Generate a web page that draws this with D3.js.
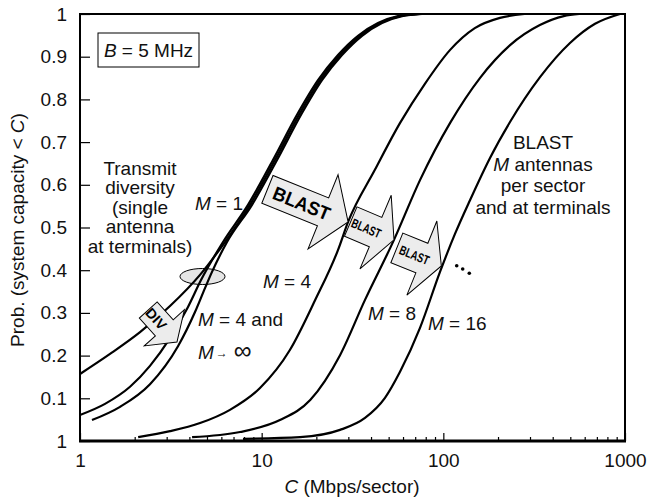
<!DOCTYPE html>
<html>
<head>
<meta charset="utf-8">
<script src="https://cdn.jsdelivr.net/npm/d3@7"></script>
<style>
body { margin: 0; background: #fff; }
svg { display: block; font-family: "Liberation Sans", Arial, Helvetica, sans-serif; }
.tick text { font-size: 19px; fill: #111; }
.lbl { font-size: 19px; fill: #111; }
.curve { fill: none; stroke: #000; stroke-width: 2.2; }
</style>
</head>
<body>
<div class="container"></div>
<script>
const margin = {
    top: 14,
    right: 22,
    bottom: 58,
    left: 80
}

const width = 647 - margin.left - margin.right,
      height = 499 - margin.top - margin.bottom;

// [C (Mbps/sector), probability]
const divM1 = [[1,0.157],[1.463,0.204],[2.14,0.255],[3.129,0.316],[4.577,0.389],[6.283,0.466],[8.626,0.553],[11.84,0.658],[16.26,0.768],[20.95,0.845],[26.99,0.904],[34.78,0.949],[44.81,0.979],[57.75,0.995],[74.4,1]];
const divM4 = [[1,0.061],[1.373,0.087],[1.885,0.127],[2.428,0.176],[3.129,0.241],[3.931,0.314],[4.636,0.377],[6.126,0.466],[8.41,0.553],[11.54,0.658],[15.85,0.768],[20.42,0.845],[26.31,0.904],[33.91,0.949],[43.69,0.979],[56.3,0.995],[72.54,1]];
const divMinf = [[1.164,0.049],[1.661,0.080],[2.428,0.133],[3.463,0.222],[4.296,0.302],[4.876,0.358],[5.329,0.396],[6.445,0.466],[8.848,0.553],[12.15,0.658],[16.68,0.768],[21.48,0.845],[27.69,0.904],[35.68,0.949],[45.96,0.979],[59.23,0.995],[76.31,1]];
const blastM4 = [[2.09,0.009],[3.13,0.023],[4.58,0.042],[6.69,0.073],[9.79,0.124],[14.3,0.213],[19.7,0.330],[26.3,0.447],[29.9,0.513],[42,0.635],[57.8,0.745],[79,0.836],[109,0.916],[149,0.967],[205,0.991],[280,1]];
const blastM8 = [[4.14,0.009],[7.6,0.021],[12.6,0.049],[18.5,0.096],[27,0.201],[37,0.330],[53.5,0.471],[74.4,0.611],[109,0.745],[159,0.850],[233,0.927],[340,0.974],[460,0.995],[560,1]];
const blastM16 = [[7.89,0.005],[16.26,0.009],[26.99,0.026],[37.06,0.054],[47.74,0.101],[57.75,0.162],[74.4,0.265],[95.86,0.396],[115.9,0.485],[140.2,0.564],[180.7,0.663],[232.8,0.747],[340.5,0.852],[498,0.932],[683.9,0.977],[938.7,1]];

const curves = [divM1, divM4, divMinf, blastM4, blastM8, blastM16];

const xTicks = [1, 10, 100, 1000];
const yTicks = [0, 0.1, 0.2, 0.3, 0.4, 0.5, 0.6, 0.7, 0.8, 0.9, 1];
const yTickLabels = ["1", "0.1", "0.2", "0.3", "0.4", "0.5", "0.6", "0.7", "0.8", "0.9", "1"];

// arrow annotations: tip given as [C, P]
const arrows = [
    {label: "BLAST", tip: [29.9, 0.513], angle: 22, headLen: 27, headHalf: 40, bodyLen: 60, bodyHalf: 15, textX: -50, textLen: 60, size: 19},
    {label: "BLAST", tip: [53.5, 0.471], angle: 23, headLen: 20, headHalf: 40, bodyLen: 27, bodyHalf: 16, textX: -30, textLen: 31, size: 13},
    {label: "BLAST", tip: [97.5, 0.41], angle: 22, headLen: 21, headHalf: 40, bodyLen: 27, bodyHalf: 16, textX: -29, textLen: 31, size: 13},
    {label: "DIV", tip: [3.42, 0.232], angle: 48, headLen: 19, headHalf: 27, bodyLen: 24, bodyHalf: 12, textX: -31, textLen: 24, size: 14}
];

const svg = d3.select(".container")
    .append("svg")
    .attr("width", width + margin.left + margin.right)
    .attr("height", height + margin.top + margin.bottom)
    .append("g")
    .attr("transform", `translate(${margin.left}, ${margin.top})`);

const xScale = d3.scaleLog()
    .domain([1, 1000])
    .range([0, width]);

const yScale = d3.scaleLinear()
    .domain([0, 1])
    .range([height, 0]);

// minor x ticks
const minor = [];
[1, 10, 100].forEach(dec => d3.range(2, 10).forEach(k => minor.push(dec * k)));

svg.append("g")
    .attr("transform", `translate(0, ${height})`)
    .call(d3.axisBottom(xScale).tickValues(minor).tickSizeInner(-4).tickSizeOuter(0).tickFormat(""))
    .call(g => g.select(".domain").remove())
    .call(g => g.selectAll("line").attr("stroke", "#000").attr("stroke-width", 1.2));

svg.append("g")
    .attr("transform", `translate(0, ${height})`)
    .call(d3.axisBottom(xScale).tickValues(xTicks).tickSizeInner(-8).tickSizeOuter(0).tickPadding(13).tickFormat(d3.format("d")))
    .call(g => g.select(".domain").remove())
    .call(g => g.selectAll("line").attr("stroke", "#000").attr("stroke-width", 1.2))
    .call(g => g.selectAll("text").attr("font-family", null));

svg.append("g")
    .call(d3.axisLeft(yScale).tickValues(yTicks).tickSizeInner(-10).tickSizeOuter(0).tickPadding(13).tickFormat((d, i) => yTickLabels[i]))
    .call(g => g.select(".domain").remove())
    .call(g => g.selectAll("line").attr("stroke", "#000").attr("stroke-width", 1.2))
    .call(g => g.selectAll("text").attr("font-family", null));

// frame
svg.append("rect")
    .attr("width", width)
    .attr("height", height)
    .attr("fill", "none")
    .attr("stroke", "#000")
    .attr("stroke-width", 2);

svg.append("line")
    .attr("x1", -1).attr("x2", width + 1)
    .attr("y1", height).attr("y2", height)
    .attr("stroke", "#000")
    .attr("stroke-width", 3);

const line = d3.line()
    .x(d => xScale(d[0]))
    .y(d => yScale(d[1]))
    .curve(d3.curveMonotoneX);

// ellipse where the diversity curves cross
svg.append("ellipse")
    .attr("cx", 122.5)
    .attr("cy", 262.5)
    .attr("rx", 22.5)
    .attr("ry", 8)
    .attr("fill", "#e6e6e6")
    .attr("stroke", "#000")
    .attr("stroke-width", 1);

svg.selectAll(".curve")
    .data(curves)
    .join("path")
    .classed("curve", true)
    .attr("d", line);

function arrowPath(a) {
    const hl = a.headLen, hh = a.headHalf, bl = a.bodyLen, bh = a.bodyHalf;
    return `M0,0L${-hl},${-hh}L${-hl},${-bh}L${-hl - bl},${-bh}L${-hl - bl},${bh}L${-hl},${bh}L${-hl},${hh}Z`;
}

const arrowG = svg.selectAll(".arrow")
    .data(arrows)
    .join("g")
    .classed("arrow", true)
    .attr("transform", d => `translate(${xScale(d.tip[0])}, ${yScale(d.tip[1])}) rotate(${d.angle})`);

arrowG.append("path")
    .attr("d", arrowPath)
    .attr("fill", "#ececec")
    .attr("stroke", "#000")
    .attr("stroke-width", 1)
    .attr("stroke-linejoin", "miter");

arrowG.append("text")
    .attr("x", d => d.textX)
    .attr("y", 0)
    .attr("dy", "0.36em")
    .attr("text-anchor", "middle")
    .attr("font-weight", "bold")
    .attr("font-size", d => d.size)
    .attr("textLength", d => d.textLen)
    .attr("lengthAdjust", "spacingAndGlyphs")
    .attr("fill", "#000")
    .text(d => d.label);

// B = 5 MHz box
svg.append("rect")
    .attr("x", 18)
    .attr("y", 19)
    .attr("width", 101)
    .attr("height", 34)
    .attr("fill", "#fff")
    .attr("stroke", "#000")
    .attr("stroke-width", 1);

const bText = svg.append("text")
    .classed("lbl", true)
    .attr("x", 68.5)
    .attr("y", 43)
    .attr("text-anchor", "middle");
bText.append("tspan").attr("font-style", "italic").text("B");
bText.append("tspan").text(" = 5 MHz");

// left annotation block
svg.selectAll(".label-div")
    .data(["Transmit", "diversity", "(single", "antenna", "at terminals)"])
    .join("text")
    .classed("lbl", true)
    .attr("x", 60)
    .attr("y", (d, i) => 161 + i * 19.4)
    .attr("text-anchor", "middle")
    .text(d => d);

// right annotation block
const rightLines = svg.append("text")
    .classed("lbl", true)
    .attr("text-anchor", "middle");
rightLines.append("tspan").attr("x", 463).attr("y", 135).text("BLAST");
const ml = rightLines.append("tspan").attr("x", 463).attr("y", 156.7);
ml.append("tspan").attr("font-style", "italic").text("M");
ml.append("tspan").text(" antennas");
rightLines.append("tspan").attr("x", 463).attr("y", 178.3).text("per sector");
rightLines.append("tspan").attr("x", 463).attr("y", 200).text("and at terminals");

function mLabel(x, y, rest) {
    const t = svg.append("text").classed("lbl", true).attr("x", x).attr("y", y);
    t.append("tspan").attr("font-style", "italic").text("M");
    t.append("tspan").text(rest);
    return t;
}

mLabel(115, 196, " = 1");
mLabel(183, 274, " = 4");
mLabel(118, 312, " = 4 and");
mLabel(288, 306, " = 8");
mLabel(348, 316, " = 16");

const inf = svg.append("text").classed("lbl", true).attr("x", 118).attr("y", 345);
inf.append("tspan").attr("font-style", "italic").text("M");
inf.append("tspan").attr("font-size", 12).attr("dx", 2).attr("dy", -2).text("→");
inf.append("tspan").attr("font-size", 25).attr("dx", 6).attr("dy", 2).text("∞");

// continuation dots
svg.selectAll(".dots")
    .data([[376.7, 251.7], [382.7, 255], [389.3, 259.3]])
    .join("circle")
    .attr("cx", d => d[0])
    .attr("cy", d => d[1])
    .attr("r", 1.8)
    .attr("fill", "#000");

// axis titles
const xt = svg.append("text")
    .classed("lbl", true)
    .attr("x", 272)
    .attr("y", 479)
    .attr("text-anchor", "middle");
xt.append("tspan").attr("font-style", "italic").text("C");
xt.append("tspan").text(" (Mbps/sector)");

const yt = svg.append("text")
    .classed("lbl", true)
    .attr("transform", `translate(${24 - margin.left}, 216) rotate(-90)`)
    .attr("text-anchor", "middle");
yt.append("tspan").text("Prob. (system capacity < ");
yt.append("tspan").attr("font-style", "italic").text("C");
yt.append("tspan").text(")");
</script>
</body>
</html>
